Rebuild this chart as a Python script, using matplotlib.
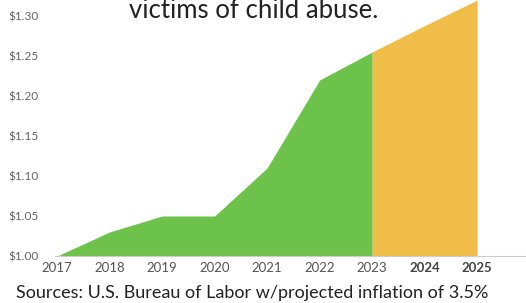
import matplotlib.pyplot as plt

years = [2017, 2018, 2019, 2020, 2021, 2022, 2023]
values = [1.00, 1.03, 1.05, 1.05, 1.11, 1.22, 1.255]
proj_years = [2023, 2024, 2025]
proj_values = [1.255, 1.288, 1.32]
yticks = [1.00, 1.05, 1.10, 1.15, 1.20, 1.25, 1.30]

plt.rcParams['font.family'] = ['Lato', 'DejaVu Sans']

fig = plt.figure(figsize=(5.26, 3.03), dpi=100)
ax = fig.add_axes([55 / 526, 1 - 256 / 303, 1 - 55 / 526, 256 / 303])

ax.fill_between(years, values, 1.0, color='#6cc24a', linewidth=0)
ax.fill_between(proj_years, proj_values, 1.0, color='#f0be48', linewidth=0)

ax.set_xlim(2016.96, 2025.93)
ax.set_ylim(1.0, 1.32)
ax.set_yticks(yticks)
ax.set_yticklabels(['$%.2f' % v for v in yticks], fontsize=8.5, color='#666666')
ax.set_xticks(years + proj_years[1:])
ax.set_xticklabels([str(y) for y in years + proj_years[1:]], fontsize=9.5, color='#555555')
for lbl in ax.get_xticklabels()[-2:]:
    lbl.set_fontweight('bold')
    lbl.set_color('#444444')

ax.tick_params(length=0, pad=4)
ax.tick_params(axis='y', pad=12)
for s in ['top', 'right', 'left']:
    ax.spines[s].set_visible(False)
ax.spines['bottom'].set_color('#cccccc')

fig.text(0.483, 1 - 18.5 / 303, "victims of child abuse.", fontsize=18.5, color='#222222',
         ha='center', va='baseline')
fig.text(0.479, 0.033, "Sources: U.S. Bureau of Labor w/projected inflation of 3.5%",
         fontsize=13, color='#222222', ha='center', va='center')

fig.savefig('out.png', dpi=100)
